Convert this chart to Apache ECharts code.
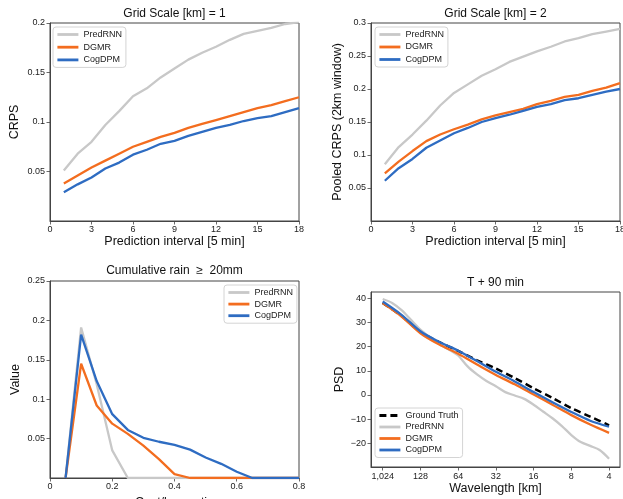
<!DOCTYPE html>
<html><head><meta charset="utf-8">
<script src="https://cdn.jsdelivr.net/npm/echarts@6/dist/echarts.min.js"></script>
<style>html,body{margin:0;padding:0;background:#fff}#c{width:623px;height:499px}</style>
</head><body><div id="c"></div>
<script>
// ---------- data ----------
const steps = [1,2,3,4,5,6,7,8,9,10,11,12,13,14,15,16,17,18];
const crps1PredRNN = [0.051,0.068,0.080,0.097,0.111,0.126,0.134,0.145,0.154,0.163,0.170,0.176,0.183,0.189,0.192,0.195,0.199,0.201];
const crps1DGMR    = [0.038,0.046,0.054,0.061,0.068,0.075,0.080,0.085,0.089,0.094,0.098,0.102,0.106,0.110,0.114,0.117,0.121,0.125];
const crps1CogDPM  = [0.029,0.037,0.044,0.053,0.059,0.067,0.072,0.078,0.081,0.086,0.090,0.094,0.097,0.101,0.104,0.106,0.110,0.114];

const crps2PredRNN = [0.086,0.112,0.131,0.152,0.175,0.194,0.207,0.220,0.230,0.241,0.249,0.257,0.264,0.272,0.277,0.283,0.287,0.291];
const crps2DGMR    = [0.072,0.090,0.106,0.121,0.131,0.139,0.146,0.154,0.160,0.165,0.170,0.177,0.182,0.188,0.191,0.197,0.202,0.209];
const crps2CogDPM  = [0.061,0.080,0.094,0.111,0.122,0.133,0.141,0.150,0.156,0.161,0.167,0.173,0.177,0.183,0.186,0.191,0.196,0.200];

const costLoss   = [0.05,0.10,0.15,0.20,0.25,0.30,0.35,0.40,0.45,0.50,0.55,0.60,0.65,0.70,0.75,0.80];
const rainPredRNN = [0,0.191,0.119,0.035,0,0,0,0,0,0,0,0,0,0,0,0];
const rainDGMR    = [0,0.145,0.092,0.069,0.056,0.041,0.024,0.005,0,0,0,0,0,0,0,0];
const rainCogDPM  = [0,0.182,0.123,0.081,0.061,0.051,0.046,0.042,0.036,0.026,0.018,0.008,0,0,0,0];

const wavelengthLabels = ['1,024','128','64','32','16','8','4'];
const psdPos      = [0,0.5,1,1.5,2,2.5,3,3.5,4,4.5,5,5.5,6];
const psdTruth    = [38.0,32.6,26.0,21.8,18.2,14.3,10.9,7.0,2.8,-1.2,-5.4,-8.9,-12.5];
const psdDGMR     = [37.9,32.4,25.5,20.8,17.0,12.6,8.3,4.4,0.2,-4.0,-8.3,-12.2,-15.6];
const psdCogDPM   = [38.6,33.1,26.3,21.9,18.3,14.0,9.6,5.6,1.2,-3.0,-7.0,-10.6,-13.1];
const psdPosFine  = [0,0.25,0.5,0.75,1,1.25,1.5,1.75,2,2.25,2.5,2.75,3,3.25,3.5,3.75,4,4.25,4.5,4.75,5,5.25,5.5,5.75,6];
const psdPredRNN  = [39.6,38.0,35.0,31.0,27.0,23.8,21.0,18.8,16.3,11.8,8.5,5.8,3.6,1.2,-0.2,-1.6,-4.0,-6.8,-9.6,-12.8,-16.5,-19.4,-21.0,-22.7,-26.3];

const crpsTicks = [0.05,0.1,0.15,0.2];
const pooledTicks = [0.05,0.1,0.15,0.2,0.25,0.3];
const valueTicks = [0.05,0.1,0.15,0.2,0.25];
const psdTicks = [-20,-10,0,10,20,30,40];

// ---------- style ----------
const FONT = 'Liberation Sans, Arial, Helvetica, sans-serif';
const C_GRAY = '#c8c8c8', C_ORANGE = '#f36d1f', C_BLUE = '#2e6cc2', C_BLACK = '#000000';
const AXC = '#444';

function grid(l,t,w,h){ return {left:l,top:t,width:w,height:h,show:true,borderColor:AXC,borderWidth:1,containLabel:false,outerBoundsMode:'none'}; }
function axisBase(extra){
  return Object.assign({
    type:'value', gridIndex:0,
    axisLine:{show:true,onZero:false,lineStyle:{color:AXC,width:1}},
    axisTick:{show:true,length:3.5,lineStyle:{color:AXC,width:0.8}},
    axisLabel:{fontFamily:FONT,fontSize:9,color:'#222',margin:4,hideOverlap:false},
    splitLine:{show:false},
    nameLocation:'middle',
    nameTextStyle:{fontFamily:FONT,fontSize:12.5,color:'#111'}
  }, extra);
}
function line(name, xs, ys, color, idx, opts){
  opts = opts || {};
  return {
    type:'line', name, xAxisIndex:idx, yAxisIndex:idx,
    data: xs.map((x,i)=>[x, ys[i]]),
    showSymbol:false, symbol:'none', smooth: opts.smooth || false,
    lineStyle:{color, width: opts.width || 2.3, type: opts.type || 'solid', cap:'butt'},
    itemStyle:{color}, z: opts.z || 2, animation:false, clip:true
  };
}
function legend(names,l,t,gap){
  return {data:names,left:l,top:t,orient:'vertical',itemWidth:21,itemHeight:10,itemGap:gap,
    itemStyle:{opacity:0,borderWidth:0},
    lineStyle:{width:2.8},
    textStyle:{fontFamily:FONT,fontSize:9,color:'#222'},borderColor:'#d4d4d4',borderWidth:1,borderRadius:3,
    padding:[3,4,3,3],selectedMode:false,backgroundColor:'rgba(255,255,255,0.85)'};
}
function title(text,x,t){ return {text,left:x,top:t,textAlign:'center',padding:0,textStyle:{fontFamily:FONT,fontSize:12,fontWeight:'normal',color:'#111'}}; }

const names3 = ['PredRNN','DGMR','CogDPM'];

const option = {
  backgroundColor:'#fff',
  animation:false,
  title:[
    title('Grid Scale [km] = 1',174.5,8),
    title('Grid Scale [km] = 2',495.5,8),
    title('Cumulative rain  \u2265  20mm',174.5,265),
    title('T + 90 min',495.5,277)
  ],
  legend:[
    legend(names3,53,27,3.7),
    legend(names3,375,27,3.5),
    legend(names3,224,285,2.6),
    legend(['Ground Truth','PredRNN','DGMR','CogDPM'],375,408,2.5)
  ],
  grid:[ grid(50,23,249,198), grid(371,23,249,198), grid(50,281,249,197), grid(371,292,249,175) ],
  xAxis:[
    axisBase({gridIndex:0,min:0,max:18,interval:3,name:'Prediction interval [5 min]',nameGap:14}),
    axisBase({gridIndex:1,min:0,max:18,interval:3,name:'Prediction interval [5 min]',nameGap:14}),
    axisBase({gridIndex:2,min:0,max:0.8,interval:0.2,name:'Cost/loss ratio',nameGap:18}),
    axisBase({gridIndex:3,min:-0.31,max:6.29,name:'Wavelength [km]',nameGap:15,
      axisLabel:{fontFamily:FONT,fontSize:9,color:'#222',margin:5,hideOverlap:false,customValues:[0,1,2,3,4,5,6],
        formatter:v=>wavelengthLabels[Math.round(v)]},
      axisTick:{show:true,length:3.5,lineStyle:{color:AXC,width:0.8},customValues:[0,1,2,3,4,5,6]}})
  ],
  yAxis:[
    axisBase({gridIndex:0,min:0,max:0.2,name:'CRPS',nameGap:29,
      axisLabel:{fontFamily:FONT,fontSize:9,color:'#222',margin:5,customValues:crpsTicks},
      axisTick:{show:true,length:3.5,lineStyle:{color:AXC,width:0.8},customValues:crpsTicks}}),
    axisBase({gridIndex:1,min:0,max:0.3,name:'Pooled CRPS (2km window)',nameGap:27,
      axisLabel:{fontFamily:FONT,fontSize:9,color:'#222',margin:5,customValues:pooledTicks},
      axisTick:{show:true,length:3.5,lineStyle:{color:AXC,width:0.8},customValues:pooledTicks}}),
    axisBase({gridIndex:2,min:0,max:0.25,name:'Value',nameGap:28,
      axisLabel:{fontFamily:FONT,fontSize:9,color:'#222',margin:5,customValues:valueTicks},
      axisTick:{show:true,length:3.5,lineStyle:{color:AXC,width:0.8},customValues:valueTicks}}),
    axisBase({gridIndex:3,min:-29.7,max:42.5,name:'PSD',nameGap:25,
      axisLabel:{fontFamily:FONT,fontSize:9,color:'#222',margin:5,customValues:psdTicks,
        formatter:v=>(v<0?'\u2212'+Math.abs(v):String(v))},
      axisTick:{show:true,length:3.5,lineStyle:{color:AXC,width:0.8},customValues:psdTicks}})
  ],
  series:[
    line('PredRNN',steps,crps1PredRNN,C_GRAY,0),
    line('DGMR',steps,crps1DGMR,C_ORANGE,0),
    line('CogDPM',steps,crps1CogDPM,C_BLUE,0),
    line('PredRNN',steps,crps2PredRNN,C_GRAY,1),
    line('DGMR',steps,crps2DGMR,C_ORANGE,1),
    line('CogDPM',steps,crps2CogDPM,C_BLUE,1),
    line('PredRNN',costLoss,rainPredRNN,C_GRAY,2,{z:3}),
    line('DGMR',costLoss,rainDGMR,C_ORANGE,2,{z:3}),
    line('CogDPM',costLoss,rainCogDPM,C_BLUE,2,{z:3}),
    line('Ground Truth',psdPos,psdTruth,C_BLACK,3,{type:[7,4],width:2.5,smooth:0.3}),
    line('PredRNN',psdPosFine,psdPredRNN,C_GRAY,3,{smooth:0.3}),
    line('DGMR',psdPos,psdDGMR,C_ORANGE,3,{smooth:0.3}),
    line('CogDPM',psdPos,psdCogDPM,C_BLUE,3,{smooth:0.3})
  ]
};
const chart = echarts.init(document.getElementById('c'),null,{renderer:'canvas'});
chart.setOption(option);
</script>
</body></html>
